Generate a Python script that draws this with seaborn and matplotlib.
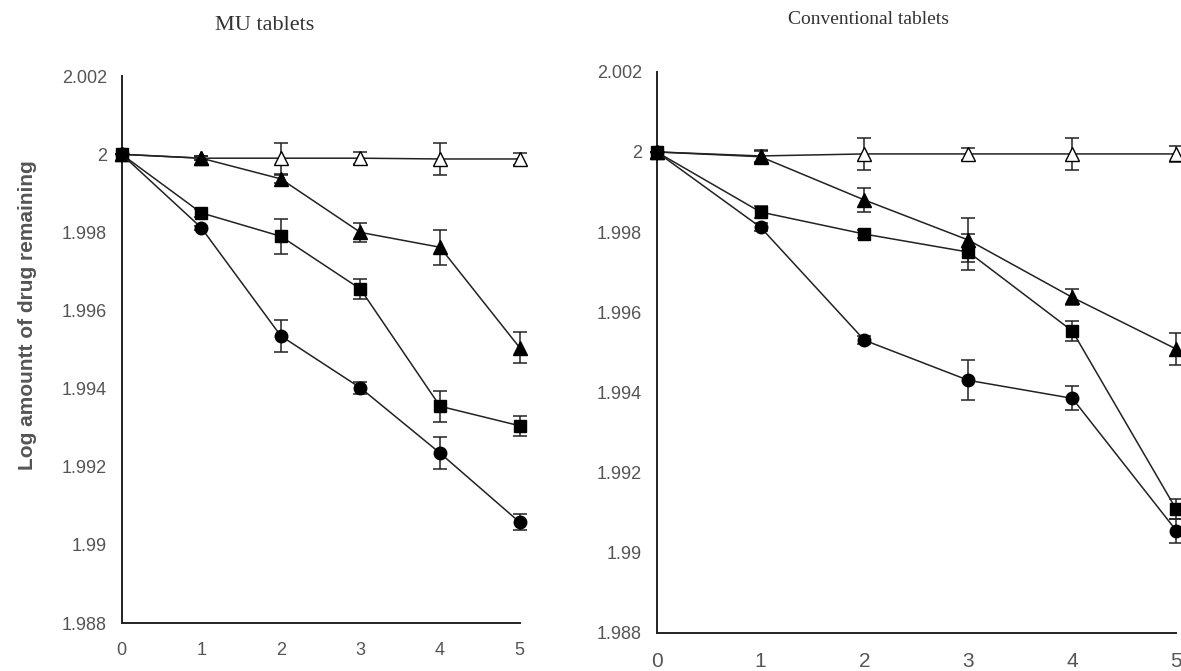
import matplotlib
matplotlib.use("Agg")
import matplotlib.pyplot as plt
import seaborn as sns
import numpy as np

time_h = [0, 1, 2, 3, 4, 5]

# MU tablets
mu_open_tri = [2.0, 1.99990, 1.99990, 1.99990, 1.99988, 1.99988]
mu_open_tri_err = [0.0, 0.00005, 0.00040, 0.00015, 0.00040, 0.00015]
mu_tri = [2.0, 1.99990, 1.99937, 1.99800, 1.99762, 1.99505]
mu_tri_err = [0.0, 0.00005, 0.00010, 0.00025, 0.00045, 0.00040]
mu_sq = [2.0, 1.99850, 1.99790, 1.99655, 1.99355, 1.99305]
mu_sq_err = [0.0, 0.00010, 0.00045, 0.00025, 0.00040, 0.00025]
mu_circ = [2.0, 1.99812, 1.99535, 1.99402, 1.99235, 1.99058]
mu_circ_err = [0.0, 0.00005, 0.00040, 0.00015, 0.00040, 0.00020]

# Conventional tablets
cv_open_tri = [2.0, 1.99990, 1.99995, 1.99995, 1.99995, 1.99995]
cv_open_tri_err = [0.0, 0.00015, 0.00040, 0.00015, 0.00040, 0.00020]
cv_tri = [2.0, 1.99988, 1.99880, 1.99780, 1.99637, 1.99508]
cv_tri_err = [0.0, 0.00015, 0.00030, 0.00055, 0.00020, 0.00040]
cv_sq = [2.0, 1.99850, 1.99795, 1.99750, 1.99553, 1.99108]
cv_sq_err = [0.0, 0.00015, 0.00010, 0.00045, 0.00025, 0.00025]
cv_circ = [2.0, 1.99812, 1.99530, 1.99430, 1.99385, 1.99055]
cv_circ_err = [0.0, 0.00010, 0.00010, 0.00050, 0.00030, 0.00030]

y_ticks = [1.988, 1.99, 1.992, 1.994, 1.996, 1.998, 2.0, 2.002]
y_tick_labels = ["1.988", "1.99", "1.992", "1.994", "1.996", "1.998", "2", "2.002"]

sns.set_style("white")
plt.rcParams["font.family"] = ["Liberation Sans", "DejaVu Sans"]

fig = plt.figure(figsize=(11.81, 6.71), dpi=100)
ax1 = fig.add_axes([0.103, 0.0715, 0.337, 0.815])
ax2 = fig.add_axes([0.556, 0.057, 0.44, 0.836])

panels = [
    (ax1, [(mu_open_tri, mu_open_tri_err, "^", "white"),
           (mu_tri, mu_tri_err, "^", "black"),
           (mu_sq, mu_sq_err, "s", "black"),
           (mu_circ, mu_circ_err, "o", "black")]),
    (ax2, [(cv_open_tri, cv_open_tri_err, "^", "white"),
           (cv_tri, cv_tri_err, "^", "black"),
           (cv_sq, cv_sq_err, "s", "black"),
           (cv_circ, cv_circ_err, "o", "black")]),
]

for ax, series in panels:
    for vals, err, mk, fc in series:
        eb = ax.errorbar(time_h, vals, yerr=err, fmt="none", ecolor="#222222",
                         elinewidth=1.1, capsize=5, capthick=1.1, zorder=2)
        for part in eb.lines[1] + eb.lines[2]:
            part.set_clip_on(False)
        sns.lineplot(x=time_h, y=vals, ax=ax, color="#222222", linewidth=1.1,
                     marker=mk, markersize=9 if mk != "^" else 10,
                     markerfacecolor=fc, markeredgecolor="black",
                     markeredgewidth=1.0, zorder=3, clip_on=False)
    ax.set_xlim(0, 5)
    ax.set_ylim(1.988, 2.002)
    ax.set_xticks(time_h)
    ax.set_yticks(y_ticks)
    ax.set_yticklabels(y_tick_labels)
    ax.tick_params(axis="both", direction="inout", length=7, width=1.0,
                   colors="#222222", labelcolor="#555555", labelsize=13)
    ax.tick_params(axis="y", pad=7)
    ax.tick_params(axis="x", pad=10)
    for side in ["top", "right"]:
        ax.spines[side].set_visible(False)
    for side in ["left", "bottom"]:
        ax.spines[side].set_color("#222222")
        ax.spines[side].set_linewidth(1.4)

ax2.tick_params(axis="x", labelsize=15)

serif = ["Liberation Serif", "DejaVu Serif"]
fig.text(265 / 1181, 1 - 25 / 671, "MU tablets", ha="center", va="center",
         fontsize=16, family=serif, color="#333333")
fig.text(868 / 1181, 1 - 20 / 671, "Conventional tablets", ha="center", va="center",
         fontsize=14, family=serif, color="#333333")
fig.text(28 / 1181, 1 - 315 / 671, "Log amountt of drug remaining", rotation=90,
         ha="center", va="center", fontsize=15, fontweight="bold", color="#555555")

fig.savefig("out.png", dpi=100)
